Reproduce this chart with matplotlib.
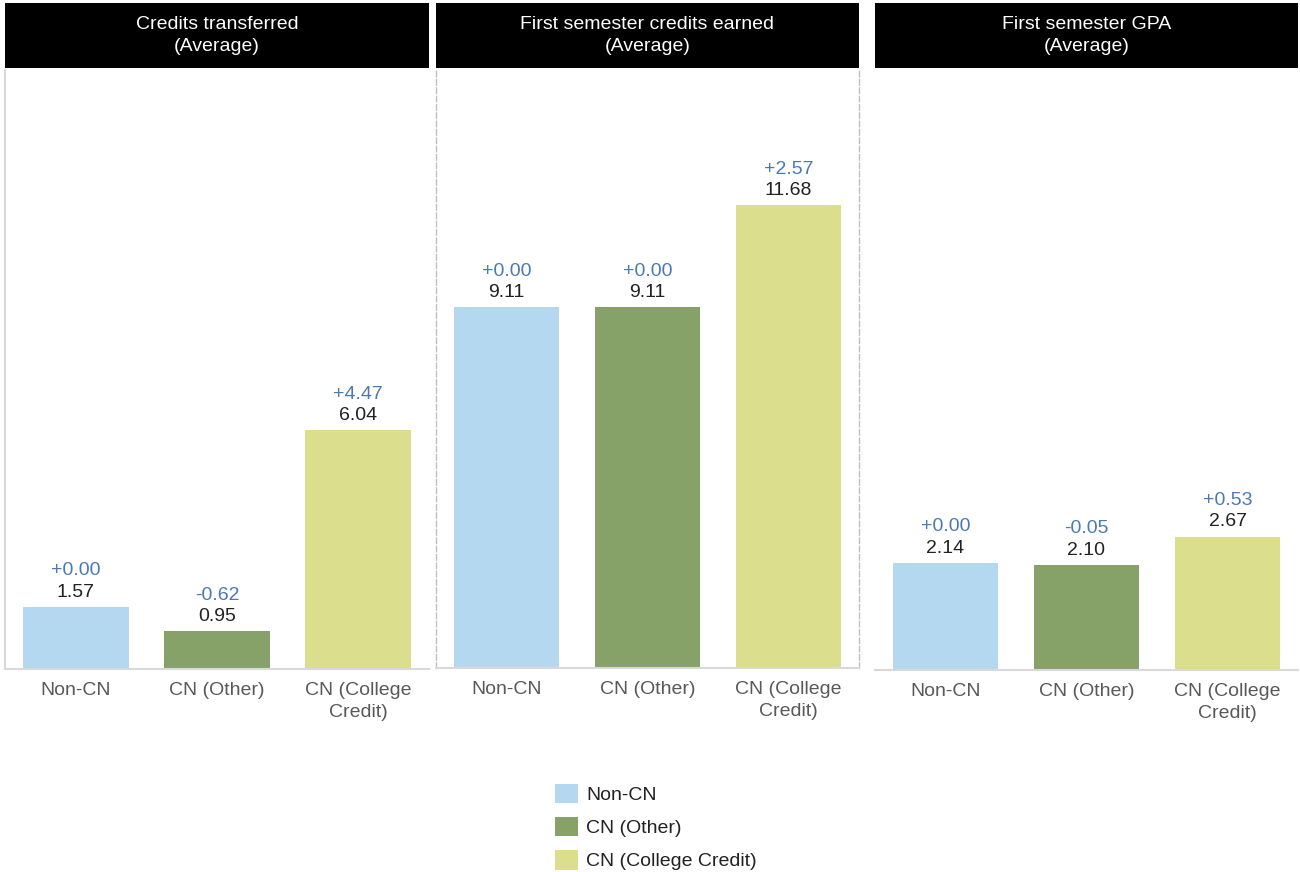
import matplotlib.pyplot as plt
from matplotlib.patches import Patch

# Data
categories = ['Non-CN', 'CN (Other)', 'CN (College Credit)']
tickLabels = ['Non-CN', 'CN (Other)', 'CN (College\nCredit)']
panelTitles = ['Credits transferred\n(Average)',
               'First semester credits earned\n(Average)',
               'First semester GPA\n(Average)']
creditsTransferred = [1.57, 0.95, 6.04]
creditsEarned = [9.11, 9.11, 11.68]
firstGpa = [2.14, 2.10, 2.67]
deltaTransferred = ['+0.00', '-0.62', '+4.47']
deltaEarned = ['+0.00', '+0.00', '+2.57']
deltaGpa = ['+0.00', '-0.05', '+0.53']

colors = ['#B4D8F0', '#86A268', '#DBDE8C']
plt.rcParams['font.family'] = ['Liberation Sans', 'DejaVu Sans']
FS = 14

W, H = 1300, 872
fig = plt.figure(figsize=(W / 100, H / 100), dpi=100)

panels = [
    (creditsTransferred, deltaTransferred, 5, 429, 669, 15.15),
    (creditsEarned, deltaEarned, 436, 859, 668, 15.1),
    (firstGpa, deltaGpa, 875, 1298, 670, 12.0),
]

for i, (values, deltas, x0, x1, yb, ymax) in enumerate(panels):
    ax = fig.add_axes([x0 / W, 1 - yb / H, (x1 - x0) / W, (yb - 70) / H])
    xs = range(len(values))
    ax.bar(xs, values, width=0.75, color=colors)
    ax.set_xlim(-0.5, 2.5)
    ax.set_ylim(0, ymax)
    ax.set_yticks([])
    ax.set_xticks(list(xs))
    ax.set_xticklabels(tickLabels, fontsize=FS, color='#595959', linespacing=1.4)
    ax.tick_params(axis='x', length=0, pad=9.5)
    for s in ['top', 'right', 'left']:
        ax.spines[s].set_visible(False)
    ax.spines['bottom'].set_color('#d9d9d9')
    ax.spines['bottom'].set_linewidth(1.5)
    if i == 0:
        ax.spines['left'].set_visible(True)
        ax.spines['left'].set_color('#d9d9d9')
        ax.spines['left'].set_linewidth(1.5)
    if i == 1:
        for s in ['left', 'right']:
            ax.spines[s].set_visible(True)
            ax.spines[s].set_color('#bfbfbf')
            ax.spines[s].set_linestyle((0, (4, 2)))
            ax.spines[s].set_linewidth(1)

    for x, v, d in zip(xs, values, deltas):
        ax.annotate(f'{v:.2f}', xy=(x, v), xytext=(0, 10.5), textcoords='offset points',
                    ha='center', va='center', fontsize=FS, color='#222222')
        ax.annotate(d, xy=(x, v), xytext=(0, 26), textcoords='offset points',
                    ha='center', va='center', fontsize=FS, color='#4a7ab5')

    # Header bar
    hx = fig.add_axes([x0 / W, 1 - 68 / H, (x1 - x0) / W, 65 / H])
    hx.set_facecolor('black')
    hx.set_xticks([])
    hx.set_yticks([])
    for s in hx.spines.values():
        s.set_visible(False)
    hx.text(0.5, 0.5, panelTitles[i], ha='center', va='center', color='white',
            fontsize=FS, linespacing=1.4, transform=hx.transAxes)

handles = [Patch(facecolor=c, edgecolor='none') for c in colors]
fig.legend(handles, categories, loc='upper left', bbox_to_anchor=(537 / W, 1 - 766 / H),
           frameon=False, fontsize=FS, handlelength=1.19, handleheight=1.19,
           labelspacing=0.65, handletextpad=0.45, labelcolor='#222222')

plt.savefig('out.png', dpi=100)
